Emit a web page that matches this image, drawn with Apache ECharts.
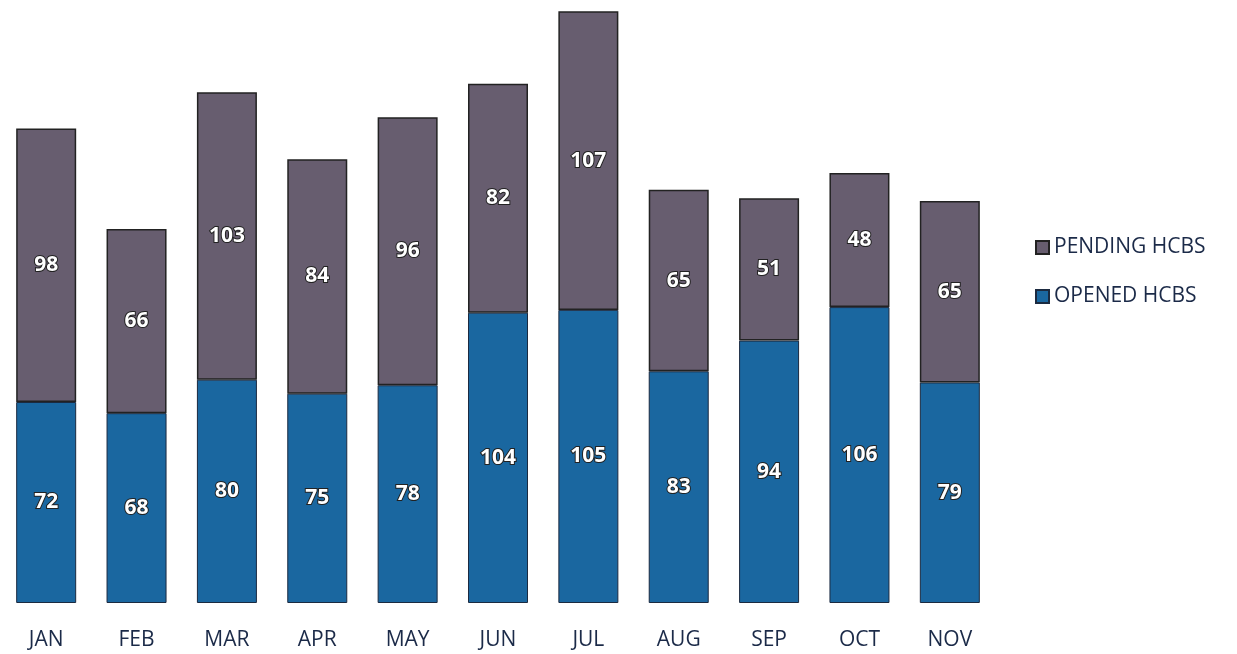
<!DOCTYPE html>
<html>
<head>
<meta charset="utf-8">
<script src="https://cdn.jsdelivr.net/npm/echarts@6/dist/echarts.min.js"></script>
<style>
html,body{margin:0;padding:0;background:#fff;}
#main{width:1237px;height:654px;}
</style>
</head>
<body>
<div id="main"></div>
<script>
var months = ['JAN','FEB','MAR','APR','MAY','JUN','JUL','AUG','SEP','OCT','NOV'];
var opened = [72, 68, 80, 75, 78, 104, 105, 83, 94, 106, 79];
var pending = [98, 66, 103, 84, 96, 82, 107, 65, 51, 48, 65];

var chart = echarts.init(document.getElementById('main'));

var labelStyle = {
    show: true,
    position: 'inside',
    color: '#fff',
    fontSize: 21,
    fontWeight: 'bold',
    fontFamily: 'Open Sans',
    textBorderColor: '#222',
    textBorderWidth: 2
};

var option = {
    animation: false,
    grid: {
        left: 1,
        right: 242,
        top: 0,
        bottom: 51
    },
    legend: {
        orient: 'vertical',
        left: 1030,
        top: 232,
        itemGap: 28,
        itemWidth: 13,
        itemHeight: 13,
        icon: 'rect',
        textStyle: {
            fontSize: 21,
            color: '#1b2a48',
            fontFamily: 'Open Sans'
        },
        data: ['PENDING HCBS', 'OPENED HCBS']
    },
    xAxis: {
        type: 'category',
        data: months,
        axisLine: {show: false},
        axisTick: {show: false},
        axisLabel: {
            margin: 27,
            fontSize: 21,
            color: '#1b2a48',
            fontFamily: 'Open Sans'
        }
    },
    yAxis: {
        type: 'value',
        min: 0,
        max: 216,
        show: false
    },
    series: [
        {
            name: 'OPENED HCBS',
            type: 'bar',
            stack: 'total',
            barWidth: 60,
            data: opened,
            itemStyle: {color: '#1a67a0', borderColor: '#1b2a40', borderWidth: 1},
            label: labelStyle
        },
        {
            name: 'PENDING HCBS',
            type: 'bar',
            stack: 'total',
            barWidth: 60,
            data: pending,
            itemStyle: {color: '#675d6f', borderColor: '#222', borderWidth: 1.5},
            label: labelStyle
        }
    ]
};

chart.setOption(option);
</script>
</body>
</html>
